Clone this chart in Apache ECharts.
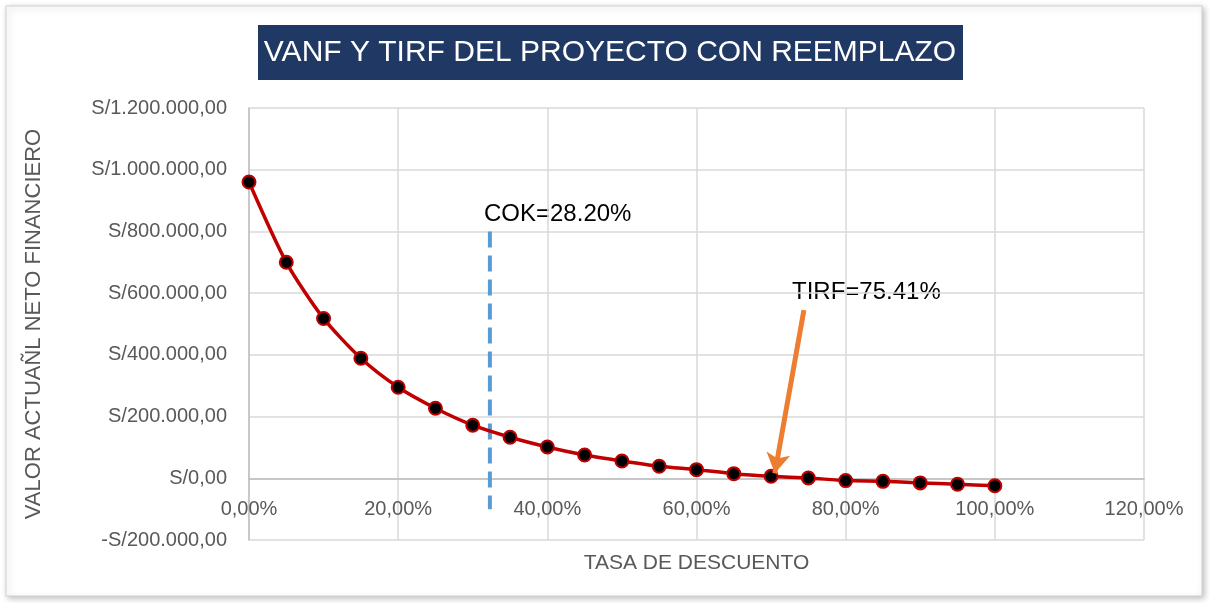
<!DOCTYPE html>
<html>
<head>
<meta charset="utf-8">
<script src="https://cdn.jsdelivr.net/npm/echarts@6/dist/echarts.min.js"></script>
<style>
  html, body { margin: 0; padding: 0; background: #fff; }
  #chart { width: 1210px; height: 603px; }
</style>
</head>
<body>
<div id="chart"></div>
<script>
// tasa de descuento (%) y VANF
const tasas = [0, 5, 10, 15, 20, 25, 30, 35, 40, 45, 50, 55, 60, 65, 70, 75, 80, 85, 90, 95, 100];
const vanf = [960000, 700000, 518000, 389000, 295000, 227000, 172000, 133000, 101500, 75500, 56000,
  39000, 28000, 15000, 6500, 1000, -7500, -10000, -15000, -19500, -24000];

// línea COK (forma dibujada, no en 28.2 exacto)
const cokX = [32.3, 32.3];
const cokY = [800000, -100000];
// flecha TIRF
const flechaDesde = [74.4, 545000];
const flechaHasta = [70.5, 16000];

const chart = echarts.init(document.getElementById('chart'));
const font = "'Liberation Sans', Arial, sans-serif";

function fmtSoles(v) {
  const s = Math.abs(v).toFixed(0).replace(/\B(?=(\d{3})+(?!\d))/g, '.');
  return (v < 0 ? '-' : '') + 'S/' + s + ',00';
}

// grid: top 108, bottom 540 -> eje x sobre el cero
const gridTop = 108, gridBottom = 540;
const yMin = -200000, yMax = 1200000;
const zeroY = gridTop + (yMax / (yMax - yMin)) * (gridBottom - gridTop);

chart.setOption({
  backgroundColor: '#fff',
  animation: false,
  graphic: [
    {
      type: 'rect', shape: { x: 6, y: 6, width: 1196, height: 590 },
      style: { fill: '#fff', stroke: '#d0d0d0', lineWidth: 1, shadowBlur: 6, shadowColor: 'rgba(0,0,0,0.25)', shadowOffsetX: 2, shadowOffsetY: 2 },
      z: -10
    },
    {
      type: 'rect', shape: { x: 258, y: 25, width: 705, height: 55 },
      style: { fill: '#203864' }
    },
    {
      type: 'text', x: 610, y: 53,
      style: { text: 'VANF Y TIRF DEL PROYECTO CON REEMPLAZO', fill: '#fff', font: '30px ' + font, textAlign: 'center', textVerticalAlign: 'middle' }
    },
    {
      type: 'text', x: 484, y: 214,
      style: { text: 'COK=28.20%', fill: '#000', font: '24px ' + font, textAlign: 'left', textVerticalAlign: 'middle' }
    },
    {
      type: 'text', x: 792, y: 292,
      style: { text: 'TIRF=75.41%', fill: '#000', font: '24px ' + font, textAlign: 'left', textVerticalAlign: 'middle' }
    }
  ],
  grid: { left: 249, right: 66, top: gridTop, bottom: 603 - gridBottom, outerBoundsMode: 'none', containLabel: false },
  xAxis: {
    type: 'value', min: 0, max: 120, interval: 20,
    position: 'bottom', offset: -(gridBottom - zeroY),
    name: 'TASA DE DESCUENTO', nameLocation: 'middle', nameGap: 74,
    nameTextStyle: { color: '#595959', fontSize: 21, fontFamily: font },
    axisLine: { onZero: false, lineStyle: { color: '#bfbfbf', width: 1.5 } },
    axisTick: { show: false },
    axisLabel: { color: '#595959', fontSize: 20, fontFamily: font, margin: 21, formatter: v => v.toFixed(2).replace('.', ',') + '%' },
    splitLine: { show: true, lineStyle: { color: '#d9d9d9', width: 1.5 } }
  },
  yAxis: {
    type: 'value', min: yMin, max: yMax, interval: 200000,
    name: 'VALOR ACTUAÑL NETO FINANCIERO', nameLocation: 'middle', nameGap: 204,
    nameTextStyle: { color: '#595959', fontSize: 22, fontFamily: font },
    axisLine: { show: true, lineStyle: { color: '#bfbfbf', width: 1.5 } },
    axisTick: { show: false },
    axisLabel: { color: '#595959', fontSize: 20, fontFamily: font, margin: 22, formatter: fmtSoles },
    splitLine: { lineStyle: { color: '#d9d9d9', width: 1.5 } }
  },
  series: [
    {
      type: 'line',
      data: tasas.map((t, i) => [t, vanf[i]]),
      smooth: 0.25,
      lineStyle: { color: '#c00000', width: 3.5 },
      symbol: 'circle', symbolSize: 13,
      itemStyle: { color: '#000', borderColor: '#c00000', borderWidth: 2 },
      z: 3
    },
    {
      type: 'line',
      data: cokX.map((x, i) => [x, cokY[i]]),
      symbol: 'none',
      lineStyle: { color: '#5b9bd5', width: 4, type: [16, 8] },
      z: 2
    },
    {
      type: 'line',
      data: [],
      markLine: {
        silent: true,
        symbol: ['none', 'arrow'], symbolSize: [18, 20],
        label: { show: false },
        lineStyle: { color: '#ed7d31', width: 5, type: 'solid' },
        data: [[{ coord: flechaDesde }, { coord: flechaHasta }]]
      },
      z: 4
    }
  ]
});
</script>
</body>
</html>
